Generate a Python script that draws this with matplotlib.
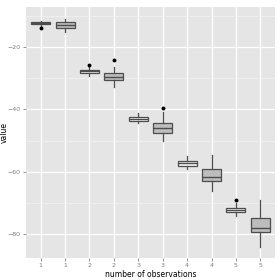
import numpy as np
import matplotlib
matplotlib.use("Agg")
import matplotlib.pyplot as plt

# box summaries (one per group)
tick_labels = ["1", "1", "2", "2", "3", "3", "4", "4", "5", "5"]
medians = [-12.35, -12.9, -27.7, -29.6, -43.0, -45.9, -57.3, -61.6, -72.3, -78.0]
q1s = [-12.7, -13.9, -28.3, -30.7, -43.8, -47.5, -58.2, -63.1, -72.9, -79.4]
q3s = [-12.0, -12.0, -27.2, -28.4, -42.3, -44.4, -56.5, -59.3, -71.6, -74.8]
whis_lo = [-13.2, -15.1, -29.3, -32.8, -44.5, -50.0, -59.3, -66.1, -74.3, -84.3]
whis_hi = [-11.6, -11.1, -26.3, -26.3, -41.0, -40.7, -55.1, -54.8, -70.2, -69.0]
outliers = [[-13.8], [], [-25.8], [-24.0], [], [-39.6], [], [], [-69.1], []]
fills = ["#f7f7f7", "#bdbdbd"] * 5

stats = []
for i in range(len(medians)):
    stats.append(dict(med=medians[i], q1=q1s[i], q3=q3s[i],
                      whislo=whis_lo[i], whishi=whis_hi[i],
                      fliers=outliers[i]))

fig = plt.figure(figsize=(2.8, 2.8), dpi=100)
ax = fig.add_axes([0.093, 0.079, 0.889, 0.896])
ax.set_facecolor("#e5e5e5")

pos = np.arange(1, len(medians) + 1)
bp = ax.bxp(stats, positions=pos, widths=0.78, patch_artist=True,
            showcaps=False,
            boxprops=dict(edgecolor="#4d4d4d", linewidth=0.9),
            medianprops=dict(color="#4d4d4d", linewidth=1.0),
            whiskerprops=dict(color="#4d4d4d", linewidth=0.9),
            flierprops=dict(marker="o", markersize=1.8, markerfacecolor="black",
                            markeredgecolor="black"))
for patch, c in zip(bp["boxes"], fills):
    patch.set_facecolor(c)

ax.set_xlim(0.4, 10.6)
ax.set_ylim(-87.7, -7.1)
ax.set_xticks(pos)
ax.set_xticklabels(tick_labels)
ax.set_yticks([-20, -40, -60, -80])
ax.set_yticks([-10, -30, -50, -70], minor=True)

ax.grid(True, which="major", color="white", linewidth=0.9)
ax.grid(True, which="minor", axis="y", color="#f2f2f2", linewidth=0.5)
ax.set_axisbelow(True)
for s in ax.spines.values():
    s.set_visible(False)
ax.tick_params(axis="both", which="major", labelsize=4.5, colors="#7f7f7f",
               length=2, width=0.6, pad=2)
ax.tick_params(axis="y", which="minor", length=0)

ax.set_xlabel("number of observations", fontsize=5.5, labelpad=1)
ax.set_ylabel("value", fontsize=5.5)
ax.yaxis.set_label_coords(-0.068, 0.5)

fig.savefig("out.png", dpi=100)
